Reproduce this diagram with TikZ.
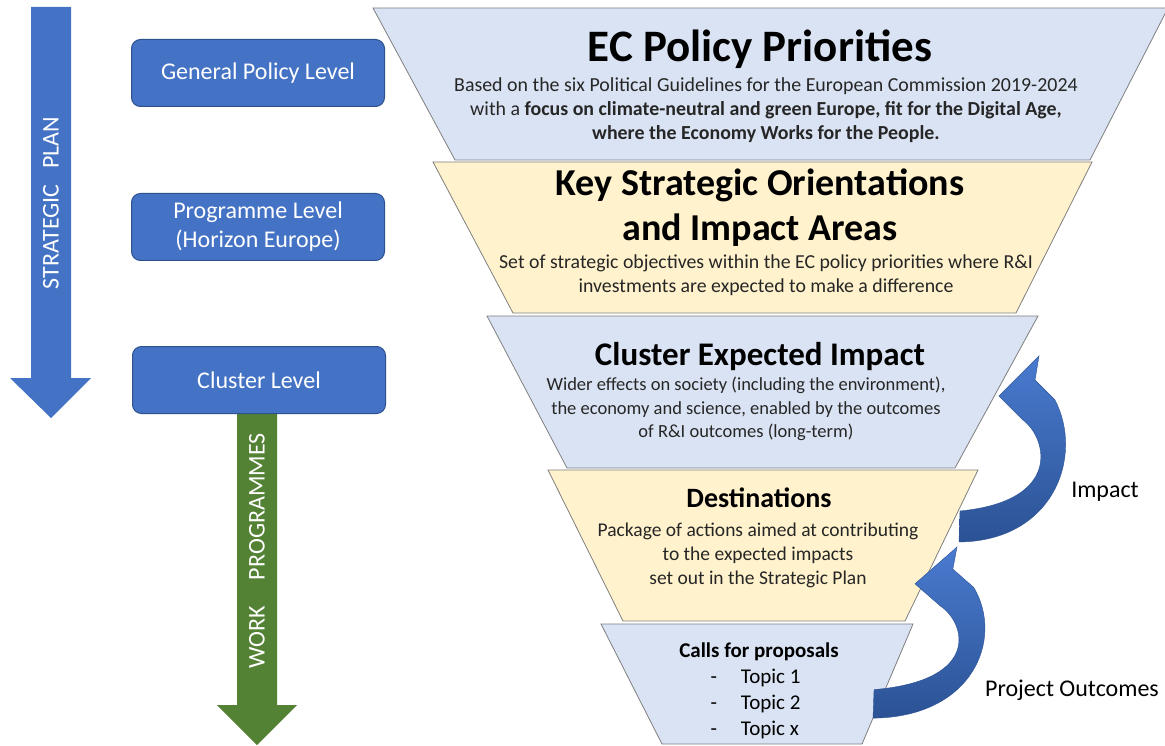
\documentclass[tikz,border=0pt]{standalone}
\usepackage{fontspec}
\setmainfont{Carlito}

\definecolor{boxblue}{HTML}{4472C4}
\definecolor{boxedge}{HTML}{2F528F}
\definecolor{workgreen}{HTML}{548235}
\definecolor{layerblue}{HTML}{DAE3F3}
\definecolor{layeryellow}{HTML}{FFF2CC}
\definecolor{layeredge}{HTML}{7F7F7F}
\definecolor{bendlight}{HTML}{4A7BD0}
\definecolor{benddark}{HTML}{2B5294}

\tikzset{bendarrow/.pic={
  \shade[top color=bendlight, bottom color=benddark, draw=benddark, line width=.4pt]
    (0,0) -- (-40,40) -- (-16,64) .. controls (8,82) and (24,145) .. (-79,155)
    -- (-80,186) .. controls (15,185) and (45,100) .. (16,44) -- (-4,24) -- cycle;
}}

\begin{document}
\begin{tikzpicture}[x=1pt,y=-1pt,
  level/.style={rectangle, rounded corners=9pt, fill=boxblue, draw=boxedge, line width=1pt,
    text=white, minimum width=253pt, minimum height=67pt, align=center,
    font=\fontsize{24}{29}\selectfont},
  layer/.style={draw=layeredge, line width=.8pt},
  body/.style={align=center, text=black!85, font=\fontsize{19.5}{24}\selectfont}]
\useasboundingbox (0,0) rectangle (1165,746);
\fill[white] (0,0) rectangle (1165,746);

% left hand arrows
\fill[boxblue] (31,7) -- (71,7) -- (71,378) -- (91,378) -- (51,418) -- (10,378) -- (31,378) -- cycle;
\node[rotate=90, text=white, font=\fontsize{24}{29}\selectfont] (plan) at (51,203) {STRATEGIC\hspace{16pt}PLAN};
\fill[workgreen] (237,410) -- (277,410) -- (277,705) -- (297,705) -- (257,745) -- (217,705) -- (237,705) -- cycle;
\node[rotate=90, text=white, font=\fontsize{24}{29}\selectfont] (work) at (257,551) {WORK\hspace{26pt}PROGRAMMES};

% levels
\node[level] (general) at (258,73) {General Policy Level};
\node[level] (programme) at (258,227) {Programme Level\\(Horizon Europe)};
\node[level] (cluster) at (259,380) {Cluster Level};

% funnel
\draw[layer, fill=layerblue] (373,8) -- (1168,8) -- (1090,160) -- (455,160) -- cycle;
\draw[layer, fill=layeryellow] (433,162) -- (1092,162) -- (1016,313) -- (513,313) -- cycle;
\draw[layer, fill=layerblue] (487,316) -- (1038,316) -- (955,468) -- (567,468) -- cycle;
\draw[layer, fill=layeryellow] (548,470) -- (978,470) -- (905,621) -- (623,621) -- cycle;
\draw[layer, fill=layerblue] (601,624) -- (913,624) -- (862,744) -- (662,744) -- cycle;

\node[font=\bfseries\fontsize{45}{54}\selectfont] (policy) at (760,49) {EC Policy Priorities};
\node[body, font=\fontsize{19.9}{24}\selectfont] (policytxt) at (766,110) {Based on the six Political Guidelines for the European Commission 2019-2024\\
  with a \textbf{focus on climate-neutral and green Europe, fit for the Digital Age,}\\
  \textbf{where the Economy Works for the People.}};

\node[align=center, font=\bfseries\fontsize{38}{45}\selectfont] (orient) at (760,208) {Key Strategic Orientations\\and Impact Areas};
\node[body, font=\fontsize{19.8}{24}\selectfont] (orienttxt) at (766,275) {Set of strategic objectives within the EC policy priorities where R\&I\\
  investments are expected to make a difference};

\node[font=\bfseries\fontsize{33}{40}\selectfont] (impact) at (760,357) {Cluster Expected Impact};
\node[body, font=\fontsize{18.5}{23.5}\selectfont] (impacttxt) at (746,409) {Wider effects on society (including the environment),\\
  the economy and science, enabled by the outcomes\\
  of R\&I outcomes (long-term)};

\node[font=\bfseries\fontsize{28}{34}\selectfont] (dest) at (759,498) {Destinations};
\node[body] (desttxt) at (758,555) {Package of actions aimed at contributing\\
  to the expected impacts\\
  set out in the Strategic Plan};

\node[font=\bfseries\fontsize{21}{26}\selectfont] (calls) at (759,652) {Calls for proposals};
\node[anchor=west, align=left, font=\fontsize{21}{26}\selectfont] (topics) at (707,704) {-\hspace{24pt}Topic 1\\
  -\hspace{24pt}Topic 2\\
  -\hspace{24pt}Topic x};

% feedback arrows
\pic at (1039,356) {bendarrow};
\pic[xscale=1.05, yscale=.92] at (957,547) {bendarrow};
\node[font=\fontsize{24}{29}\selectfont] (impactlbl) at (1105,492) {Impact};
\node[font=\fontsize{24}{29}\selectfont] (outcomelbl) at (1072,690) {Project Outcomes};

\end{tikzpicture}
\end{document}
